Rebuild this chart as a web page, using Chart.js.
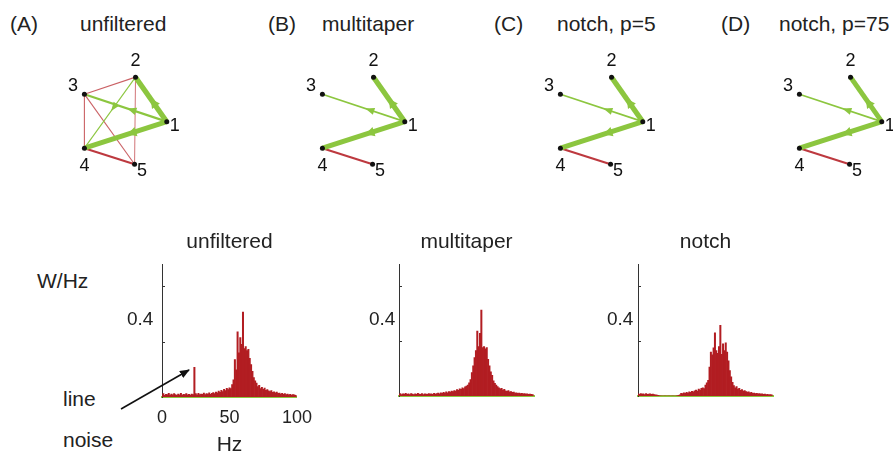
<!DOCTYPE html>
<html>
<head>
<meta charset="utf-8">
<script src="https://cdn.jsdelivr.net/npm/chart.js@4.4.1/dist/chart.umd.min.js"></script>
<style>
html, body { margin: 0; padding: 0; background: #fff; width: 893px; height: 453px; overflow: hidden; }
body { position: relative; font-family: "Liberation Sans", Arial, sans-serif; color: #222; }
canvas, .txt, svg { position: absolute; }
.txt { white-space: nowrap; line-height: 1; font-size: 21px; }
</style>
</head>
<body>
<!-- panel titles -->
<div class="txt" style="left:10px;top:13px">(A)</div>
<div class="txt" style="left:80px;top:13px">unfiltered</div>
<div class="txt" style="left:268px;top:13px">(B)</div>
<div class="txt" style="left:322px;top:13px">multitaper</div>
<div class="txt" style="left:494px;top:13px">(C)</div>
<div class="txt" style="left:557px;top:13px">notch, p=5</div>
<div class="txt" style="left:721px;top:13px">(D)</div>
<div class="txt" style="left:779px;top:13px">notch, p=75</div>

<canvas id="netA" width="150" height="150" style="left:52px;top:40px"></canvas>
<canvas id="netB" width="150" height="150" style="left:290px;top:40px"></canvas>
<canvas id="netC" width="150" height="150" style="left:528px;top:40px"></canvas>
<canvas id="netD" width="150" height="150" style="left:767px;top:40px"></canvas>

<canvas id="specU" width="181" height="226" style="left:139px;top:230px"></canvas>
<canvas id="specM" width="181" height="169" style="left:376px;top:230px"></canvas>
<canvas id="specN" width="181" height="169" style="left:615px;top:230px"></canvas>

<div class="txt" style="left:37px;top:270px">W/Hz</div>
<div class="txt" style="left:127px;top:309px;font-size:19px">0.4</div>
<div class="txt" style="left:369px;top:309px;font-size:19px">0.4</div>
<div class="txt" style="left:607px;top:309px;font-size:19px">0.4</div>
<div class="txt" style="left:63px;top:388px">line</div>
<div class="txt" style="left:63px;top:429px">noise</div>
<svg width="893" height="453" style="left:0;top:0">
  <defs>
    <marker id="ah" markerWidth="10" markerHeight="8" refX="9" refY="4" orient="auto" markerUnits="userSpaceOnUse">
      <path d="M0,0 L10,4 L0,8 z" fill="#111"/>
    </marker>
  </defs>
  <line x1="121" y1="409" x2="189" y2="370" stroke="#111" stroke-width="1.6" marker-end="url(#ah)"/>
</svg>

<script>
// network layout (node 1..5)
const nodeNames = ['1', '2', '3', '4', '5'];
const nodeX = [87, 54, 0, 0, 53];
const nodeY = [122, 75, 93, 150, 167];

// edges: [from, to, weight]  (weight > 0 green, < 0 red)
const edgesUnfiltered = [[1, 2, 0.95], [1, 4, 0.95], [1, 3, 0.4], [2, 4, 0.2], [4, 5, -0.38],
                         [3, 2, -0.2], [3, 4, -0.2], [3, 5, -0.2], [2, 5, -0.12]];
const edgesMultitaper = [[1, 2, 0.95], [1, 4, 0.95], [1, 3, 0.3], [4, 5, -0.38]];
const edgesNotch5 = [[1, 2, 0.95], [1, 4, 0.95], [1, 3, 0.3], [4, 5, -0.38]];
const edgesNotch75 = [[1, 2, 0.9], [1, 4, 0.95], [1, 3, 0.3], [4, 5, -0.38]];

// spectra, 1 Hz bins
const freqs = [
  0, 1, 2, 3, 4, 5, 6, 7, 8, 9, 10, 11, 12, 13, 14, 15, 16, 17, 18, 19,
  20, 21, 22, 23, 24, 25, 26, 27, 28, 29, 30, 31, 32, 33, 34, 35, 36, 37, 38, 39,
  40, 41, 42, 43, 44, 45, 46, 47, 48, 49, 50, 51, 52, 53, 54, 55, 56, 57, 58, 59,
  60, 61, 62, 63, 64, 65, 66, 67, 68, 69, 70, 71, 72, 73, 74, 75, 76, 77, 78, 79,
  80, 81, 82, 83, 84, 85, 86, 87, 88, 89, 90, 91, 92, 93, 94, 95, 96, 97, 98, 99];
const specUnfiltered = [
  0.008, 0.012, 0.006, 0.010, 0.009, 0.013, 0.007, 0.011, 0.008, 0.012,
  0.009, 0.006, 0.011, 0.008, 0.013, 0.007, 0.010, 0.009, 0.012, 0.008,
  0.010, 0.007, 0.011, 0.009, 0.107, 0.012, 0.008, 0.013, 0.009, 0.011,
  0.010, 0.014, 0.009, 0.012, 0.011, 0.015, 0.010, 0.013, 0.016, 0.012,
  0.018, 0.015, 0.021, 0.017, 0.024, 0.020, 0.028, 0.023, 0.031, 0.027,
  0.033, 0.030, 0.045, 0.062, 0.135, 0.098, 0.236, 0.160, 0.215, 0.190,
  0.307, 0.175, 0.182, 0.168, 0.172, 0.140, 0.117, 0.093, 0.070, 0.058,
  0.050, 0.038, 0.042, 0.030, 0.035, 0.028, 0.032, 0.024, 0.027, 0.022,
  0.020, 0.023, 0.017, 0.019, 0.015, 0.018, 0.013, 0.014, 0.011, 0.013,
  0.010, 0.012, 0.009, 0.011, 0.008, 0.010, 0.007, 0.009, 0.008, 0.006];
const specMultitaper = [
  0.006, 0.009, 0.005, 0.008, 0.007, 0.010, 0.006, 0.008, 0.005, 0.009,
  0.007, 0.005, 0.008, 0.006, 0.010, 0.007, 0.006, 0.009, 0.005, 0.008,
  0.007, 0.006, 0.009, 0.007, 0.008, 0.006, 0.010, 0.007, 0.009, 0.011,
  0.008, 0.012, 0.010, 0.013, 0.011, 0.015, 0.012, 0.016, 0.014, 0.018,
  0.016, 0.020, 0.018, 0.023, 0.021, 0.026, 0.024, 0.030, 0.027, 0.033,
  0.036, 0.040, 0.048, 0.060, 0.085, 0.110, 0.140, 0.165, 0.236, 0.180,
  0.228, 0.313, 0.176, 0.180, 0.172, 0.176, 0.134, 0.110, 0.088, 0.075,
  0.055, 0.046, 0.040, 0.034, 0.030, 0.026, 0.028, 0.022, 0.024, 0.019,
  0.017, 0.020, 0.015, 0.016, 0.013, 0.014, 0.011, 0.012, 0.010, 0.011,
  0.009, 0.010, 0.008, 0.009, 0.007, 0.008, 0.006, 0.007, 0.006, 0.005];
const specNotch = [
  0.008, 0.006, 0.009, 0.007, 0.008, 0.005, 0.009, 0.006, 0.007, 0.008,
  0.006, 0.007, 0.005, 0.004, 0.003, 0.002, 0.001, 0.000, 0.000, 0.000,
  0.000, 0.000, 0.000, 0.000, 0.000, 0.000, 0.000, 0.000, 0.000, 0.001,
  0.002, 0.004, 0.010, 0.009, 0.012, 0.010, 0.013, 0.011, 0.015, 0.013,
  0.017, 0.015, 0.019, 0.022, 0.018, 0.025, 0.022, 0.028, 0.030, 0.027,
  0.040, 0.048, 0.057, 0.105, 0.160, 0.150, 0.175, 0.230, 0.165, 0.155,
  0.180, 0.257, 0.152, 0.190, 0.165, 0.194, 0.160, 0.128, 0.093, 0.070,
  0.050, 0.038, 0.030, 0.034, 0.025, 0.028, 0.021, 0.023, 0.018, 0.020,
  0.016, 0.014, 0.015, 0.012, 0.013, 0.010, 0.011, 0.009, 0.010, 0.008,
  0.009, 0.007, 0.008, 0.006, 0.007, 0.005, 0.006, 0.004, 0.005, 0.004];
const yTicks = [0.2, 0.4];

const FONT = '"Liberation Sans", Arial, sans-serif';
const GREEN = '#8cc63f';
const RED = '#b21d22';

// arrowheads on the green (directed) edges + node numbers
const netDecor = {
  id: 'netDecor',
  afterDatasetsDraw(chart) {
    const ctx = chart.ctx;
    chart.data.datasets.forEach((ds, i) => {
      if (!ds.weight || ds.weight <= 0) return;
      const pts = chart.getDatasetMeta(i).data;
      const a = pts[0], b = pts[1];
      const ang = Math.atan2(b.y - a.y, b.x - a.x);
      const f = 0.42;
      const cx = a.x + (b.x - a.x) * f, cy = a.y + (b.y - a.y) * f;
      const hw = 3 + ds.borderWidth * 0.35;
      ctx.save();
      ctx.translate(cx, cy);
      ctx.rotate(ang);
      ctx.fillStyle = ds.borderColor;
      ctx.beginPath();
      ctx.moveTo(5, 0);
      ctx.lineTo(-4, hw);
      ctx.lineTo(-4, -hw);
      ctx.closePath();
      ctx.fill();
      ctx.restore();
    });
    const offs = [[8, 4], [0, -16], [-11.5, -8], [0, 18], [7.5, 6.5]];
    const xs = chart.scales.x, ys = chart.scales.y;
    ctx.save();
    ctx.font = '18px ' + FONT;
    ctx.fillStyle = '#111';
    ctx.textAlign = 'center';
    ctx.textBaseline = 'middle';
    nodeNames.forEach((n, i) => {
      ctx.fillText(n, xs.getPixelForValue(nodeX[i]) + offs[i][0], ys.getPixelForValue(nodeY[i]) + offs[i][1]);
    });
    ctx.restore();
  }
};

function network(id, edges) {
  const datasets = edges.map(e => ({
    type: 'line',
    data: [{ x: nodeX[e[0] - 1], y: nodeY[e[0] - 1] }, { x: nodeX[e[1] - 1], y: nodeY[e[1] - 1] }],
    weight: e[2],
    borderColor: e[2] > 0 ? GREEN : 'rgba(180,30,36,' + Math.min(1, 0.5 + Math.abs(e[2])) + ')',
    borderWidth: Math.max(1, Math.abs(e[2]) * 5.5),
    pointRadius: 0,
    order: e[2] > 0 ? 1 : 2
  }));
  datasets.push({
    type: 'scatter',
    data: nodeX.map((x, i) => ({ x: x, y: nodeY[i] })),
    pointRadius: 2.5,
    backgroundColor: '#111',
    borderWidth: 0,
    order: 0
  });
  new Chart(document.getElementById(id), {
    type: 'scatter',
    data: { datasets: datasets },
    options: {
      responsive: false,
      animation: false,
      plugins: { legend: { display: false }, tooltip: { enabled: false } },
      scales: {
        x: { display: false, min: -30, max: 120 },
        y: { display: false, min: 40, max: 190, reverse: true }
      }
    },
    plugins: [netDecor]
  });
}

// small inner tick marks on the y axis
const innerTicks = {
  id: 'innerTicks',
  afterDraw(chart) {
    const ctx = chart.ctx, y = chart.scales.y, left = chart.chartArea.left;
    ctx.save();
    ctx.strokeStyle = '#333';
    ctx.lineWidth = 1;
    yTicks.forEach(v => {
      const py = Math.round(y.getPixelForValue(v)) + 0.5;
      ctx.beginPath();
      ctx.moveTo(left, py);
      ctx.lineTo(left + 3, py);
      ctx.stroke();
    });
    ctx.restore();
  }
};

function spectrum(id, title, values, showX) {
  new Chart(document.getElementById(id), {
    type: 'bar',
    data: {
      datasets: [{
        data: freqs.map((f, i) => ({ x: f, y: values[i] })),
        backgroundColor: RED,
        borderWidth: 0,
        barPercentage: 1,
        categoryPercentage: 1
      }]
    },
    options: {
      responsive: false,
      animation: false,
      layout: { padding: { left: 23, right: 23, top: 0, bottom: showX ? 0 : 3 } },
      plugins: {
        legend: { display: false },
        tooltip: { enabled: false },
        title: {
          display: true, text: title, color: '#222',
          font: { size: 21, family: FONT, weight: 'normal' },
          padding: { top: 0, bottom: 9 }
        }
      },
      scales: {
        x: {
          type: 'linear', min: 0, max: 100, offset: false, z: 1,
          grid: { display: showX, drawOnChartArea: false, drawTicks: showX, tickLength: 4, tickColor: 'rgba(0,0,0,0)' },
          border: { display: true, color: GREEN, width: 2 },
          ticks: { display: showX, stepSize: 50, maxRotation: 0, padding: 8, color: '#222', font: { size: 18, family: FONT, lineHeight: 1 } },
          title: { display: showX, text: 'Hz', color: '#222', font: { size: 21, family: FONT, lineHeight: 1 }, padding: 0 }
        },
        y: {
          min: 0, max: 0.48,
          grid: { display: false, drawTicks: false },
          border: { display: true, color: '#333', width: 1 },
          ticks: { display: false }
        }
      }
    },
    plugins: [innerTicks]
  });
}

network('netA', edgesUnfiltered);
network('netB', edgesMultitaper);
network('netC', edgesNotch5);
network('netD', edgesNotch75);

spectrum('specU', 'unfiltered', specUnfiltered, true);
spectrum('specM', 'multitaper', specMultitaper, false);
spectrum('specN', 'notch', specNotch, false);
</script>
</body>
</html>
